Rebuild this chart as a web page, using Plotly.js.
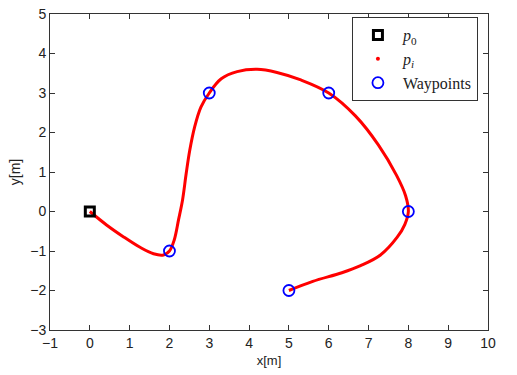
<!DOCTYPE html>
<html><head><meta charset="utf-8">
<script src="https://cdn.plot.ly/plotly-3.0.1.min.js"></script>
<style>html,body{margin:0;padding:0;background:#fff}#plot{width:517px;height:375px}</style>
</head><body><div id="plot"></div>
<script>
// Trajectory p_i
const pathX = [0, 0.42, 0.83, 1.25, 1.6, 1.85, 2.0, 2.12, 2.23, 2.33, 2.42, 2.51, 2.63, 2.79, 3.0, 3.3, 3.7, 4.2, 4.7, 5.3, 6.0, 6.67, 7.25, 7.7, 7.93, 8.0, 7.91, 7.72, 7.3, 6.8, 6.33, 5.6, 5.0];
const pathY = [0, -0.34, -0.63, -0.9, -1.07, -1.1, -1.0, -0.72, -0.2, 0.3, 0.96, 1.55, 2.13, 2.64, 3.0, 3.36, 3.54, 3.6, 3.52, 3.33, 3.0, 2.42, 1.68, 0.92, 0.4, 0.0, -0.33, -0.65, -1.1, -1.37, -1.55, -1.77, -2.0];
// Start point p0
const startX = [0];
const startY = [0];
// Waypoints
const wpX = [2, 3, 6, 8, 5];
const wpY = [-1, 3, 3, 0, -2];
// Axis ticks
const xTicks = [-1, 0, 1, 2, 3, 4, 5, 6, 7, 8, 9, 10];
const yTicks = [-3, -2, -1, 0, 1, 2, 3, 4, 5];

const traces = [
  {x: pathX, y: pathY, mode: 'lines', line: {color: '#ff0000', width: 3, shape: 'spline', smoothing: 1}, showlegend: false, hoverinfo: 'skip'},
  {x: startX, y: startY, mode: 'markers', name: '<i>p</i><sub>0</sub>', marker: {symbol: 'square-open', size: 9, color: '#000', line: {width: 3, color: '#000'}}},
  {x: [null], y: [null], mode: 'markers', name: '<i>p</i><sub><i>i</i></sub>', marker: {symbol: 'circle', size: 4, color: '#ff0000'}},
  {x: wpX, y: wpY, mode: 'markers', name: 'Waypoints', marker: {symbol: 'circle-open', size: 11, color: '#0000ff', line: {width: 1.8, color: '#0000ff'}}}
];

const axisCommon = {
  showgrid: false, zeroline: false, showline: true, mirror: 'ticks',
  linecolor: '#333', linewidth: 1, ticks: 'inside', ticklen: 5, tickcolor: '#333',
  tickfont: {family: 'Liberation Sans, Arial, sans-serif', size: 14, color: '#222'}
};

const layout = {
  width: 517, height: 375,
  margin: {l: 50, r: 29, t: 14, b: 45},
  paper_bgcolor: '#fff', plot_bgcolor: '#fff',
  xaxis: Object.assign({}, axisCommon, {range: [-1, 10], tickvals: xTicks,
    title: {text: 'x[m]', font: {family: 'Liberation Sans, Arial, sans-serif', size: 13, color: '#222'}, standoff: 6}}),
  yaxis: Object.assign({}, axisCommon, {range: [-3, 5], tickvals: yTicks,
    title: {text: 'y[m]', font: {family: 'Liberation Sans, Arial, sans-serif', size: 14, color: '#222'}, standoff: 6}}),
  legend: {x: 0.977, y: 0.99, xanchor: 'right', yanchor: 'top', bgcolor: '#fff',
    bordercolor: '#333', borderwidth: 1, itemwidth: 40,
    font: {family: 'Liberation Serif, DejaVu Serif, serif', size: 16, color: '#222'},
    tracegroupgap: 0, itemsizing: 'trace'},
  showlegend: true
};

Plotly.newPlot('plot', traces, layout, {displayModeBar: false, staticPlot: true});
</script></body></html>
